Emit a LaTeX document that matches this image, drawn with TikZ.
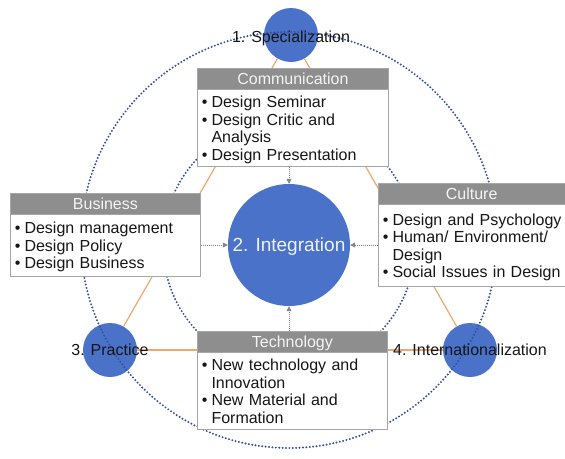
\documentclass[tikz,border=0pt]{standalone}
\usepackage{fontspec}
\setmainfont{Liberation Sans}
\usetikzlibrary{arrows.meta,backgrounds}
\definecolor{hdrfill}{HTML}{8E8E8E}
\definecolor{hdrtext}{HTML}{F4F4F4}
\definecolor{boxline}{HTML}{A6A6A6}
\definecolor{spotblue}{HTML}{4A72C9}
\definecolor{ringblue}{HTML}{34509E}
\definecolor{linkorange}{HTML}{EFA76B}
\definecolor{flowgray}{HTML}{858585}
\definecolor{inktext}{HTML}{161616}
\definecolor{coretext}{HTML}{EEF2FB}
% bullet list set as a two-column table: bullet, then item text;
% the closing negative skip lowers the block a little inside its box
\newcommand{\bulletlist}[1]{\begin{tabular}{@{}l@{\hspace{4pt}}l@{}}#1\\[-5pt]\end{tabular}}
\newcommand{\bl}{\textbullet}

\begin{document}
\begin{tikzpicture}[x=1pt,y=-1pt,
  txt/.style={font=\fontsize{16}{17.5}\selectfont},
  hdr/.style={txt, rectangle, draw=boxline, line width=0.8pt, fill=hdrfill,
    text=hdrtext, anchor=north west, inner sep=0pt,
    text height=11.5pt, text depth=0pt},
  body/.style={txt, rectangle, draw=boxline, line width=0.8pt, fill=white,
    text=inktext, anchor=north west, inner xsep=4.5pt, inner ysep=0pt,
    align=left},
  ring/.style={draw=ringblue, line width=2.2pt, dash pattern=on 0pt off 3.4pt,
    line cap=round},
  link/.style={draw=linkorange, line width=1.2pt},
  spot/.style={circle, fill=spotblue, minimum size=54pt, inner sep=0pt},
  flow/.style={draw=flowgray, line width=0.8pt, dash pattern=on 1pt off 1pt,
    -{Triangle[length=5pt,width=5pt]}},
  lbl/.style={txt, text=inktext, anchor=base, inner sep=0pt}
]
\useasboundingbox (0,0) rectangle (565,458);

% the three stage circles
\node[spot] (c1) at (291,35) {};
\node[spot] (c3) at (110,350) {};
\node[spot] (c4) at (470,350) {};

% orange triangle joining the stages, behind the circles
\begin{scope}[on background layer]
  \draw[link] (c1) -- (c3);
  \draw[link] (c1) -- (c4);
  \draw[link] (c3) -- (c4);
\end{scope}

% dotted orbits
\draw[ring] (289,240) circle[radius=208];
\draw[ring] (289,245) circle[radius=126];

% central circle
\node[circle, fill=spotblue, minimum size=122pt, inner sep=0pt] (integ) at (289,245) {};
\node[txt, font=\fontsize{19}{21}\selectfont, text=coretext, anchor=base,
  inner sep=0pt, yshift=-6.8pt] (integ-label) at (integ.center) {2. Integration};

% Communication
\node[hdr, minimum width=191pt, minimum height=21pt] (comm-h) at (197,68) {Communication};
\node[body, text width=182pt, minimum height=77pt] (comm-b) at (197,89)
  {\bulletlist{\bl & Design Seminar\\ \bl & Design Critic and\\ & Analysis\\ \bl & Design Presentation}};

% Business
\node[hdr, minimum width=190pt, minimum height=21pt] (biz-h) at (10,193) {Business};
\node[body, text width=181pt, minimum height=62pt] (biz-b) at (10,214)
  {\bulletlist{\bl & Design management\\ \bl & Design Policy\\ \bl & Design Business}};

% Culture
\node[hdr, minimum width=186.5pt, minimum height=21pt] (cult-h) at (378,183) {Culture};
\node[body, text width=177.5pt, minimum height=82pt] (cult-b) at (378,204)
  {\bulletlist{\bl & Design and Psychology\\ \bl & Human/ Environment/\\ & Design\\ \bl & Social Issues in Design}};

% Technology
\node[hdr, minimum width=190pt, minimum height=21pt] (tech-h) at (197,331) {Technology};
\node[body, text width=181pt, minimum height=77pt] (tech-b) at (197,352)
  {\bulletlist{\bl & New technology and\\ & Innovation\\ \bl & New Material and\\ & Formation}};

% dotted arrows into the centre
\draw[flow] (comm-b.south -| integ.north) -- (integ.north);
\draw[flow] (biz-b.east |- integ.west) -- (integ.west);
\draw[flow] (cult-b.west |- integ.east) -- (integ.east);
\draw[flow] (tech-h.north -| integ.south) -- (integ.south);

% stage labels
\node[lbl] (c1-label) at ([yshift=-7.3pt]c1.center) {1. Specialization};
\node[lbl] (c3-label) at ([yshift=-5.8pt]c3.center) {3. Practice};
\node[lbl] (c4-label) at ([yshift=-5.8pt]c4.center) {4. Internationalization};
\end{tikzpicture}
\end{document}
